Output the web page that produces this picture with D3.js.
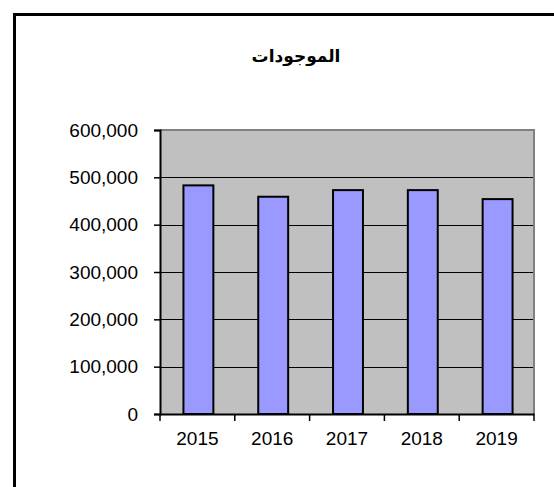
<!DOCTYPE html>
<html>
<head>
<meta charset="utf-8">
<script src="https://cdn.jsdelivr.net/npm/d3@7"></script>
<style>
  body { margin: 0; background: #fff; }
  svg { display: block; }
</style>
</head>
<body>
<div id="chart"></div>
<script>
const title = "الموجودات";
const years = ["2015", "2016", "2017", "2018", "2019"];
const values = [483000, 459000, 473000, 473000, 454000];
const yTicks = [0, 100000, 200000, 300000, 400000, 500000, 600000];

const width = 554, height = 487;
const plot = { left: 160, top: 130, right: 534, bottom: 414 };

const svg = d3.select("#chart").append("svg")
    .attr("width", width)
    .attr("height", height);

// outer chart frame (right and bottom edges run off the picture)
svg.append("rect")
    .attr("x", 14.5).attr("y", 14.5)
    .attr("width", 600).attr("height", 600)
    .attr("fill", "#fff")
    .attr("stroke", "#000")
    .attr("stroke-width", 3);

svg.append("text")
    .attr("x", 296).attr("y", 62)
    .attr("text-anchor", "middle")
    .attr("font-family", "DejaVu Sans, sans-serif")
    .attr("font-weight", "bold")
    .attr("font-size", 17)
    .attr("direction", "rtl")
    .text(title);

const x = d3.scaleBand()
    .domain(years)
    .range([plot.left, plot.right]);

const y = d3.scaleLinear()
    .domain([0, 600000])
    .range([plot.bottom, plot.top]);

// plot area background
svg.append("rect")
    .attr("x", plot.left).attr("y", plot.top)
    .attr("width", plot.right - plot.left)
    .attr("height", plot.bottom - plot.top)
    .attr("fill", "#c0c0c0");

// gridlines
svg.append("g")
    .selectAll("line")
    .data(yTicks.filter(d => d > 0 && d < 600000))
    .join("line")
    .attr("x1", plot.left).attr("x2", plot.right)
    .attr("y1", d => Math.round(y(d)) + 0.5)
    .attr("y2", d => Math.round(y(d)) + 0.5)
    .attr("stroke", "#000")
    .attr("stroke-width", 1);

// gray border top/right
svg.append("path")
    .attr("d", `M${plot.left},${plot.top}H${plot.right}V${plot.bottom}`)
    .attr("fill", "none")
    .attr("stroke", "#808080")
    .attr("stroke-width", 2);

// bars
const barW = x.bandwidth() * 0.4;
svg.append("g")
    .selectAll("rect")
    .data(years)
    .join("rect")
    .attr("x", (d) => x(d) + x.bandwidth() / 2 - barW / 2 + 1)
    .attr("y", (d, i) => y(values[i]))
    .attr("width", barW)
    .attr("height", (d, i) => y(0) - y(values[i]))
    .attr("fill", "#9999ff")
    .attr("stroke", "#000")
    .attr("stroke-width", 2);

// y axis
const yAxis = svg.append("g")
    .attr("transform", `translate(${plot.left},0)`)
    .call(d3.axisLeft(y).tickValues(yTicks).tickSize(6).tickPadding(16)
        .tickFormat(d3.format(",")));
yAxis.select(".domain").attr("stroke", "#000").attr("stroke-width", 2);
yAxis.selectAll(".tick line").attr("stroke", "#000").attr("stroke-width", 1.5);
yAxis.selectAll("text")
    .attr("font-family", "Liberation Sans, Arial, sans-serif")
    .attr("font-size", 19)
    .attr("fill", "#000");

// x axis
const xAxis = svg.append("g")
    .attr("transform", `translate(0,${plot.bottom})`)
    .call(d3.axisBottom(x).tickSize(0).tickPadding(18));
xAxis.select(".domain").attr("stroke", "#000").attr("stroke-width", 2);
xAxis.selectAll("text")
    .attr("font-family", "Liberation Sans, Arial, sans-serif")
    .attr("font-size", 19)
    .attr("fill", "#000");

// category boundary tick marks
const bounds = years.map(d => x(d)).concat([plot.right]);
xAxis.selectAll(".bound")
    .data(bounds)
    .join("line")
    .attr("class", "bound")
    .attr("x1", d => d).attr("x2", d => d)
    .attr("y1", 0).attr("y2", 7)
    .attr("stroke", "#000")
    .attr("stroke-width", 1.5);
</script>
</body>
</html>
